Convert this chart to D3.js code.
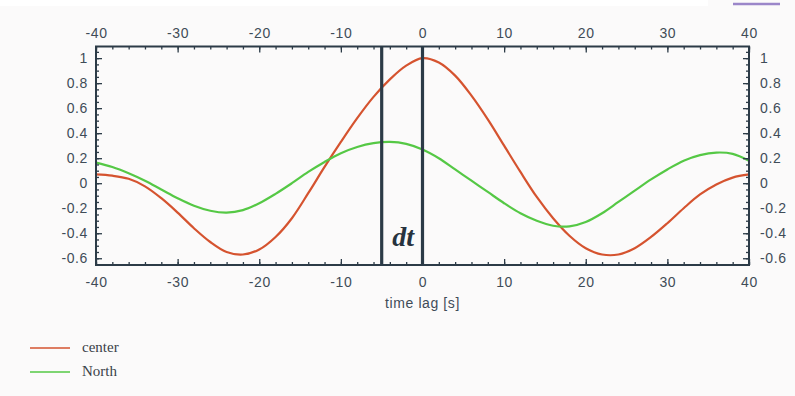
<!DOCTYPE html>
<html><head><meta charset="utf-8">
<script src="https://cdn.jsdelivr.net/npm/d3@7"></script>
<style>html,body{margin:0;padding:0;background:#fbfafa;}svg{display:block;}</style>
</head><body>
<svg id="c" width="795" height="396"></svg>
<script>
const lags = [-40,-38,-36,-34,-32,-30,-28,-26,-24,-22,-20,-18,-16,-14,-12,-10,-8,-6,-4,-2,0,2,4,6,8,10,12,14,16,18,20,22,24,26,28,30,32,34,36,38,40];
const center = [0.07,0.06,0.035,-0.025,-0.12,-0.235,-0.36,-0.47,-0.55,-0.57,-0.53,-0.43,-0.28,-0.08,0.13,0.33,0.52,0.69,0.83,0.94,1.0,0.965,0.86,0.70,0.51,0.30,0.09,-0.11,-0.28,-0.42,-0.52,-0.57,-0.57,-0.52,-0.43,-0.32,-0.20,-0.09,-0.01,0.045,0.07];
const north = [0.165,0.13,0.08,0.02,-0.05,-0.12,-0.18,-0.22,-0.235,-0.215,-0.16,-0.085,0.0,0.09,0.17,0.24,0.29,0.32,0.33,0.315,0.27,0.20,0.11,0.02,-0.07,-0.16,-0.24,-0.30,-0.34,-0.345,-0.31,-0.24,-0.15,-0.06,0.03,0.11,0.18,0.225,0.245,0.235,0.18];
const xTicks = [-40,-30,-20,-10,0,10,20,30,40];
const yTicks = [-0.6,-0.4,-0.2,0,0.2,0.4,0.6,0.8,1];
const dtLags = [-5,0];
const seriesNames = ["center","North"];
const colors = ["#d5532f","#55c845"];

const svg = d3.select("#c");
const L=96,R=749,T=46.5,B=265;
const x = d3.scaleLinear().domain([-40,40]).range([L,R]);
const y = d3.scaleLinear().domain([-0.654,1.093]).range([B,T]);
const axisColor="#2c3b47", textColor="#3f4c58";

svg.append("rect").attr("x",0).attr("y",0).attr("width",708).attr("height",6).attr("fill","#ffffff");
svg.append("line").attr("x1",733).attr("x2",780).attr("y1",4).attr("y2",4).attr("stroke","#9b86c9").attr("stroke-width",2.5);

const lineGen = d3.line().x((d,i)=>x(lags[i])).y(d=>y(d)).curve(d3.curveCatmullRom.alpha(0.5));

const g = svg.append("g");
[center,north].forEach((s,k)=>{
  g.append("path").attr("d",lineGen(s)).attr("fill","none").attr("stroke",colors[k]).attr("stroke-width",2.2);
});
dtLags.forEach(v=>{
  g.append("line").attr("x1",x(v)).attr("x2",x(v)).attr("y1",T).attr("y2",B).attr("stroke",axisColor).attr("stroke-width",3.2);
});
g.append("text").attr("x",(x(-5)+x(0))/2+1).attr("y",246).attr("text-anchor","middle")
  .attr("font-family","Liberation Serif, DejaVu Serif, serif").attr("font-style","italic").attr("font-weight","bold")
  .attr("font-size",28).attr("fill","#27333e").text("dt");

const fmt = d=> (Math.abs(d)<1e-9? "0" : String(+d.toFixed(1)));
function styleAxis(sel){
  sel.select(".domain").remove();
  sel.selectAll("line").attr("stroke",axisColor).attr("stroke-width",1.3);
  sel.selectAll("text").attr("fill",textColor).attr("font-family","Liberation Sans, Arial, sans-serif").attr("font-size",14).attr("letter-spacing",0.6);
}
const xMinor = d3.range(-40,41,2);
const yMinor = d3.range(-0.65,1.09,0.05);
svg.append("g").attr("transform",`translate(0,${B})`).call(d3.axisBottom(x).tickValues(xMinor).tickSize(-3).tickFormat("")).call(styleAxis);
svg.append("g").attr("transform",`translate(0,${T})`).call(d3.axisTop(x).tickValues(xMinor).tickSize(-3).tickFormat("")).call(styleAxis);
svg.append("g").attr("transform",`translate(${L},0)`).call(d3.axisLeft(y).tickValues(yMinor).tickSize(-3).tickFormat("")).call(styleAxis);
svg.append("g").attr("transform",`translate(${R},0)`).call(d3.axisRight(y).tickValues(yMinor).tickSize(-3).tickFormat("")).call(styleAxis);
svg.append("g").attr("transform",`translate(0,${B})`).call(d3.axisBottom(x).tickValues(xTicks).tickSize(-6).tickPadding(12).tickFormat(d=>String(d))).call(styleAxis);
svg.append("g").attr("transform",`translate(0,${T})`).call(d3.axisTop(x).tickValues(xTicks).tickSize(-6).tickPadding(9).tickFormat(d=>String(d))).call(styleAxis);
svg.append("g").attr("transform",`translate(${L},0)`).call(d3.axisLeft(y).tickValues(yTicks).tickSize(-6).tickPadding(8).tickFormat(fmt)).call(styleAxis);
svg.append("g").attr("transform",`translate(${R},0)`).call(d3.axisRight(y).tickValues(yTicks).tickSize(-6).tickPadding(11).tickFormat(fmt)).call(styleAxis);
svg.append("rect").attr("x",L).attr("y",T).attr("width",R-L).attr("height",B-T).attr("fill","none").attr("stroke",axisColor).attr("stroke-width",2);

svg.append("text").attr("x",x(0)).attr("y",308).attr("text-anchor","middle").attr("fill",textColor)
  .attr("font-family","Liberation Sans, Arial, sans-serif").attr("font-size",14).attr("letter-spacing",0.6).text("time lag [s]");

seriesNames.forEach((n,k)=>{
  const yy = 348 + k*24;
  svg.append("line").attr("x1",30).attr("x2",70).attr("y1",yy).attr("y2",yy).attr("stroke",colors[k]).attr("stroke-width",1.4);
  svg.append("text").attr("x",82).attr("y",yy+4).attr("fill","#3a3f48").attr("font-family","Liberation Serif, DejaVu Serif, serif").attr("font-size",15).text(n);
});
</script>
</body></html>
